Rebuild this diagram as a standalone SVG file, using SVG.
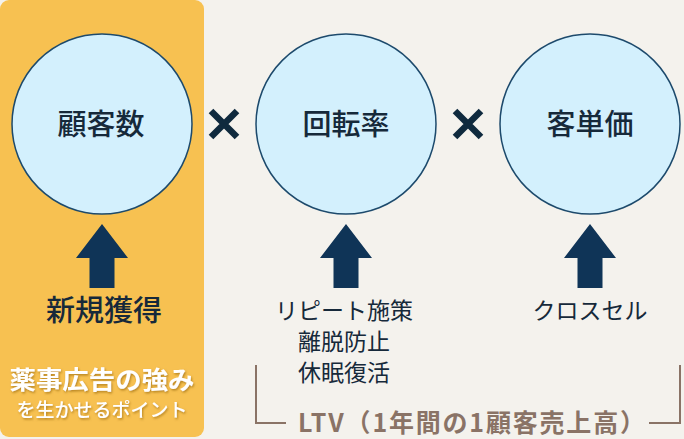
<svg xmlns="http://www.w3.org/2000/svg" width="684" height="439" viewBox="0 0 684 439">
<defs>
<style>
.c{fill:#d3f0fd;stroke:#1d4a6c;stroke-width:1.5}
.lbl{font-family:"Noto Sans CJK JP","Noto Sans",sans-serif;fill:#16293a;text-anchor:middle}
.arw{fill:#0f3457}
.x{stroke:#0f2a3e;stroke-width:6.5}
.br{fill:none;stroke:#8a7366;stroke-width:2}
</style>
<filter id="sh" x="-10%" y="-30%" width="120%" height="160%"><feDropShadow dx="1" dy="1.5" stdDeviation="1.2" flood-color="#8a5a00" flood-opacity="0.6"/></filter>
</defs>
<rect width="684" height="439" fill="#f4f2ed"/>
<rect x="0" y="0" width="204" height="437" rx="9" fill="#f7c151"/>
<g id="n1"><circle class="c" cx="102" cy="124" r="90"/><text class="lbl" x="101" y="135" font-size="29" font-weight="500">顧客数</text></g>
<g id="n2"><circle class="c" cx="346" cy="124" r="90"/><text class="lbl" x="346" y="135" font-size="29" font-weight="500">回転率</text></g>
<g id="n3"><circle class="c" cx="590" cy="124" r="90"/><text class="lbl" x="590" y="135" font-size="29" font-weight="500">客単価</text></g>
<g id="times">
<path class="x" d="M211 111 L237 137 M237 111 L211 137"/>
<path class="x" d="M455 111 L481 137 M481 111 L455 137"/>
</g>
<g id="connectors">
<path class="arw" d="M102 224 L128 258 L114.5 258 L114.5 288 L89.5 288 L89.5 258 L76 258 Z"/>
<path class="arw" d="M346 224 L372 258 L358.5 258 L358.5 288 L333.5 288 L333.5 258 L320 258 Z"/>
<path class="arw" d="M590 224 L616 258 L602.5 258 L602.5 288 L577.5 288 L577.5 258 L564 258 Z"/>
</g>
<g id="t1"><text class="lbl" x="104" y="321" font-size="29" font-weight="500">新規獲得</text></g>
<g id="t2"><text class="lbl" x="344" y="319" font-size="23"><tspan x="344">リピート施策</tspan><tspan x="344" dy="31">離脱防止</tspan><tspan x="344" dy="31">休眠復活</tspan></text></g>
<g id="t3"><text class="lbl" x="590" y="319" font-size="23">クロスセル</text></g>
<g id="panel" filter="url(#sh)">
<text x="102" y="389" font-family="Noto Sans CJK JP,sans-serif" font-size="25" font-weight="700" fill="#fff" text-anchor="middle" textLength="185" lengthAdjust="spacingAndGlyphs">薬事広告の強み</text>
<text x="102" y="417" font-family="Noto Sans CJK JP,sans-serif" font-size="19" font-weight="500" fill="#fff" text-anchor="middle">を生かせるポイント</text>
</g>
<g id="ltv">
<path class="br" d="M256 365 V423 H286 M649 423 H680 V365"/>
<text x="298" y="432" font-family="Noto Sans CJK JP,sans-serif" font-size="25" font-weight="700" fill="#8a7366" textLength="347" lengthAdjust="spacing">LTV（1年間の1顧客売上高）</text>
</g>
</svg>
